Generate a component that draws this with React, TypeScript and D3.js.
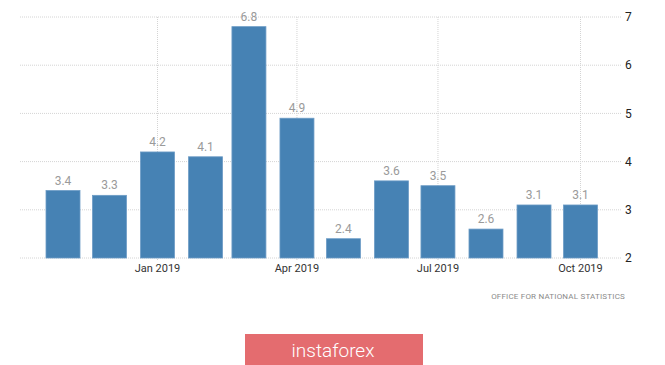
import * as d3 from "d3";
import React, { useEffect } from "react";

// monthly values (Nov 2018 .. Oct 2019)
const months = [
  "2018-11-01", "2018-12-01", "2019-01-01", "2019-02-01", "2019-03-01", "2019-04-01",
  "2019-05-01", "2019-06-01", "2019-07-01", "2019-08-01", "2019-09-01", "2019-10-01",
];
const values = [3.4, 3.3, 4.2, 4.1, 6.8, 4.9, 2.4, 3.6, 3.5, 2.6, 3.1, 3.1];
const yTicks = [2, 3, 4, 5, 6, 7];
const xTicks = ["2019-01-01", "2019-04-01", "2019-07-01", "2019-10-01"];
const source = "OFFICE FOR NATIONAL STATISTICS";
const logo = "instaforex";

const W = 665;
const H = 365;
const parse = d3.utcParse("%Y-%m-%d");
const fmt = d3.utcFormat("%b %Y");

const App = () => {
  useEffect(() => {
    document.body.style.margin = "0";
  }, []);

  const x = d3.scaleUtc()
    .domain([parse(months[0])!, parse(months[months.length - 1])!])
    .range([63, 580.5]);
  const y = d3.scaleLinear([2, 7], [258, 17]);
  const barW = 34;

  return (
    <svg width={W} height={H} style={{ display: "block", background: "#fff" }}
      fontFamily="Roboto, 'Liberation Sans', sans-serif">
      {/* horizontal grid */}
      <g>
        {yTicks.map((t) => (
          <g key={t}>
            <line x1={20} x2={622} y1={y(t)} y2={y(t)} stroke="#d4d4d4"
              strokeDasharray="1,1" />
            <text x={625} y={y(t)} dy="0.35em" fontSize={12} fill="#222">{t}</text>
          </g>
        ))}
      </g>
      {/* vertical grid */}
      <g>
        {xTicks.map((t) => (
          <g key={t}>
            <line x1={x(parse(t)!)} x2={x(parse(t)!)} y1={y(7)} y2={261}
              stroke="#d4d4d4" strokeDasharray="1,1" />
            <text x={x(parse(t)!)} y={268} dy="0.35em" textAnchor="middle"
              fontSize={11} fill="#333">{fmt(parse(t)!)}</text>
          </g>
        ))}
      </g>
      {/* bars */}
      <g>
        {values.map((v, i) => {
          const cx = x(parse(months[i])!);
          return (
            <g key={i}>
              <rect x={cx - barW / 2} y={y(v)} width={barW} height={y(2) - y(v)}
                fill="#4682b4" stroke="#6d9cc6" strokeWidth={0.8} />
              <text x={cx} y={y(v) - 6} textAnchor="middle" fontSize={12}
                fill="#9a9a9a">{v.toFixed(1)}</text>
            </g>
          );
        })}
      </g>
      <text x={625} y={299} textAnchor="end" fontSize={8} letterSpacing={0.2}
        fill="#8a8a8a">{source}</text>
      {/* logo */}
      <rect x={245} y={334} width={178} height={31} fill="#e46c6f" />
      <text x={333} y={350} dy="0.35em" textAnchor="middle" fontSize={19}
        fontWeight={300} fill="#fff">{logo}</text>
    </svg>
  );
};

export default App;
